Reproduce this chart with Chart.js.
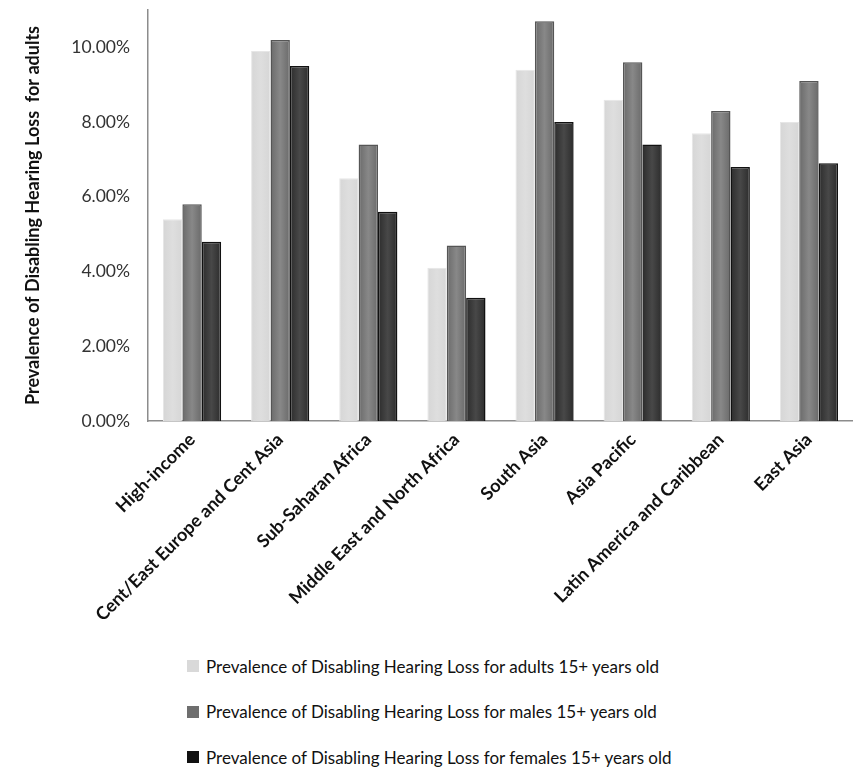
<!DOCTYPE html>
<html>
<head>
<meta charset="utf-8">
<script src="https://cdn.jsdelivr.net/npm/chart.js@4.4.1/dist/chart.umd.min.js"></script>
<style>
  html, body { margin: 0; padding: 0; background: #fff; }
  #wrap { position: relative; width: 853px; height: 772px; }
  #c { position: absolute; left: 0; top: 0; }
  #legend { position: absolute; left: 187px; top: 653px; font-family: Lato, "Open Sans", sans-serif; font-size: 17px; color: #111; }
  .row { display: flex; align-items: center; height: 26px; margin-bottom: 19.5px; white-space: nowrap; }
  .box { width: 12px; height: 12px; margin-right: 7px; }
</style>
</head>
<body>
<div id="wrap">
  <canvas id="c" width="853" height="640"></canvas>
  <div id="legend"></div>
</div>
<script>
// Regions and prevalence of disabling hearing loss (fraction of population)
const categories = [
  'High-income',
  'Cent/East Europe and Cent Asia',
  'Sub-Saharan Africa',
  'Middle East and North Africa',
  'South Asia',
  'Asia Pacific',
  'Latin America and Caribbean',
  'East Asia'
];
const seriesNames = [
  'Prevalence of Disabling Hearing Loss for adults 15+ years old',
  'Prevalence of Disabling Hearing Loss for males 15+ years old',
  'Prevalence of Disabling Hearing Loss for females 15+ years old'
];
const adults  = [0.054, 0.099, 0.065, 0.041, 0.094, 0.086, 0.077, 0.080];
const males   = [0.058, 0.102, 0.074, 0.047, 0.107, 0.096, 0.083, 0.091];
const females = [0.048, 0.095, 0.056, 0.033, 0.080, 0.074, 0.068, 0.069];
const yTicks  = [0, 0.02, 0.04, 0.06, 0.08, 0.10];

const CAT_PCT = 0.66;
const FONT = 'Lato, "Open Sans", sans-serif';

// Horizontal shading across each bar: edge colour -> centre colour -> edge colour
function shaded(edge, centre) {
  return (ctx) => {
    const chart = ctx.chart;
    const xs = chart.scales && chart.scales.x;
    if (ctx.type !== 'data' || !xs || !chart.chartArea) return centre;
    const n = ctx.chart.data.datasets.length;
    const slot = (xs.width / categories.length) * CAT_PCT / n;
    const cx = xs.getPixelForValue(ctx.dataIndex) + (ctx.datasetIndex - (n - 1) / 2) * slot;
    const g = chart.ctx.createLinearGradient(cx - slot / 2, 0, cx + slot / 2, 0);
    g.addColorStop(0, edge);
    g.addColorStop(0.5, centre);
    g.addColorStop(1, edge);
    return g;
  };
}

const legendSwatches = ['#d9d9d9', '#6e6e6e', '#111111'];

const chart = new Chart(document.getElementById('c'), {
  type: 'bar',
  data: {
    labels: categories,
    datasets: [
      { label: seriesNames[0], data: adults,  backgroundColor: shaded('#d6d6d6', '#dedede'), borderColor: '#e6e6e6', borderWidth: 1 },
      { label: seriesNames[1], data: males,   backgroundColor: shaded('#6a6a6a', '#888888'), borderColor: '#555555', borderWidth: 1.5 },
      { label: seriesNames[2], data: females, backgroundColor: shaded('#2c2c2c', '#484848'), borderColor: '#111111', borderWidth: 1.5 }
    ]
  },
  options: {
    responsive: false,
    animation: false,
    layout: { padding: { top: 10, left: 0, right: 0, bottom: 0 } },
    datasets: { bar: { categoryPercentage: CAT_PCT, barPercentage: 1 } },
    plugins: { legend: { display: false }, tooltip: { enabled: false } },
    scales: {
      x: {
        grid: { display: false, drawTicks: false },
        border: { display: true, color: '#8c8c8c', width: 1.5 },
        ticks: {
          autoSkip: false, minRotation: 45, maxRotation: 45, padding: 8,
          color: '#111', font: { family: FONT, size: 18, weight: 'bold' }
        },
        afterFit: (s) => { s.height = 219; s.paddingLeft = 0; s.paddingRight = 0; }
      },
      y: {
        min: 0, max: 0.11,
        grid: { display: false, drawTicks: false },
        border: { display: true, color: '#8c8c8c', width: 1.5 },
        afterBuildTicks: (s) => { s.ticks = yTicks.map(v => ({ value: v })); },
        ticks: {
          padding: 18, color: '#333',
          font: { family: FONT, size: 17.5 },
          callback: (v) => (v * 100).toFixed(2) + '%'
        },
        title: {
          display: true,
          text: 'Prevalence of Disabling Hearing Loss  for adults',
          color: '#111',
          font: { family: FONT, size: 18, weight: 'bold' },
          padding: { top: 22, bottom: 0 }
        },
        afterFit: (s) => { s.width = 148; s.paddingTop = 0; s.paddingBottom = 0; }
      }
    }
  }
});

// Legend listing each series with its swatch
const legend = document.getElementById('legend');
chart.data.datasets.forEach((ds, i) => {
  const row = document.createElement('div');
  row.className = 'row';
  const box = document.createElement('span');
  box.className = 'box';
  box.style.background = legendSwatches[i];
  const txt = document.createElement('span');
  txt.textContent = ds.label;
  row.appendChild(box);
  row.appendChild(txt);
  legend.appendChild(row);
});
</script>
</body>
</html>
